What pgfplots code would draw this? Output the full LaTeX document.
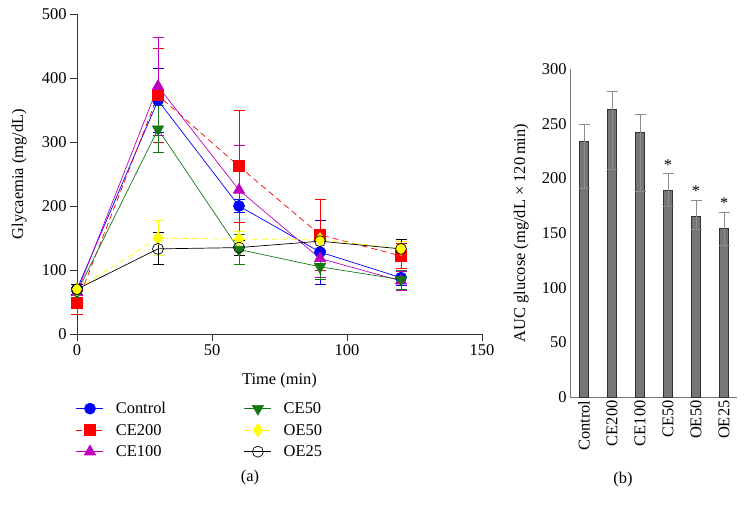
\documentclass[border=0pt]{standalone}
\usepackage{pgfplots}
\pgfplotsset{compat=1.18}
\usepackage{pgfplotstable}
\usepackage{fontspec}
\setmainfont{Liberation Serif}
\definecolor{cblue}{RGB}{0,0,255}
\definecolor{cred}{RGB}{255,0,0}
\definecolor{cmag}{RGB}{190,0,190}
\definecolor{cgreen}{RGB}{20,120,20}
\definecolor{cyel}{RGB}{255,255,0}
\definecolor{bargray}{RGB}{118,118,118}
\definecolor{bardark}{RGB}{50,50,50}
\definecolor{errgray}{RGB}{140,140,140}
\definecolor{axgray}{RGB}{120,120,120}

\pgfplotstableread{
x y e
0 70 8
30 365 50
60 200 10
90 128 50
120 88 12
}\control
\pgfplotstableread{
x y e
0 48 18
30 373 73
60 262 88
90 155 55
120 122 20
}\cetwo
\pgfplotstableread{
x y e
0 65 8
30 387 77
60 225 70
90 118 30
120 83 15
}\ceone
\pgfplotstableread{
x y e
0 65 8
30 320 37
60 132 24
90 105 20
120 85 15
}\cefifty
\pgfplotstableread{
x y e
0 70 8
30 150 27
60 148 12
90 148 15
120 133 12
}\oefifty
\pgfplotstableread{
x y e
0 70 8
30 133 25
60 135 12
90 145 15
120 133 15
}\oetwentyfive
\pgfplotstableread{
x y ep em
0 234 15 43
1 263 16 55
2 242 16 54
3 189 15 15
4 165 15 12
5 154 15 15
}\auc

\begin{document}
\begin{tikzpicture}[font=\fontsize{16.5}{19}\selectfont]
\useasboundingbox (0,0) rectangle (748bp,511bp);
\begin{axis}[
  at={(77bp,177bp)}, anchor=south west,
  scale only axis, width=405bp, height=320bp,
  xmin=0, xmax=150, ymin=0, ymax=500,
  axis lines*=left,
  axis line style={black!80, line width=0.9pt},
  xtick={0,50,100,150}, ytick={0,100,...,500},
  tick align=outside, major tick length=7bp,
  tick style={black!80, line width=0.8pt},
  /pgf/number format/assume math mode=true,
  tick label style={font=\fontsize{16.5}{19}\selectfont},
  xlabel={Time (min)}, ylabel={Glycaemia (mg/dL)},
  xlabel style={font=\fontsize{16.5}{19}\selectfont, at={(axis description cs:0.5,-0.147)}, anchor=center},
  ylabel style={font=\fontsize{16.5}{19}\selectfont, at={(axis description cs:-0.143,0.5)}, anchor=center},
  clip=false,
  legend columns=3, transpose legend,
  legend style={at={(-0.01,-0.2)}, anchor=north west, draw=none, fill=none,
    font=\fontsize{16.5}{19}\selectfont, row sep=5bp,
    /tikz/every even column/.append style={column sep=76bp},
    /tikz/every odd column/.append style={column sep=10bp}},
  legend cell align=left,
  legend image code/.code={%
    \draw[mark repeat=2, mark phase=2] plot coordinates {(0bp,0bp) (13.5bp,0bp) (27bp,0bp)};},
  every axis plot/.append style={line width=0.7pt},
  error bars/error bar style={solid, line width=0.8pt},
  error bars/error mark options={rotate=90, mark size=5.5bp, solid, line width=0.8pt},
]
\addplot[cblue, mark=*, mark size=5.5bp, mark options={fill=cblue},
  error bars/.cd, y dir=both, y explicit] table[x=x, y=y, y error=e] {\control};
\addlegendentry{Control}
\addplot[cred, dash pattern=on 6bp off 4bp, mark=square*, mark size=5.5bp, mark options={solid, fill=cred},
  error bars/.cd, y dir=both, y explicit] table[x=x, y=y, y error=e] {\cetwo};
\addlegendentry{CE200}
\addplot[cmag, mark=triangle*, mark size=6.5bp, mark options={fill=cmag},
  error bars/.cd, y dir=both, y explicit] table[x=x, y=y, y error=e] {\ceone};
\addlegendentry{CE100}
\addplot[cgreen, mark=triangle*, mark size=6.5bp, mark options={fill=cgreen, rotate=180},
  error bars/.cd, y dir=both, y explicit] table[x=x, y=y, y error=e] {\cefifty};
\addlegendentry{CE50}
\addplot[cyel, dash pattern=on 6bp off 4bp, mark=diamond*, mark size=6.5bp, mark options={solid, fill=cyel},
  error bars/.cd, y dir=both, y explicit] table[x=x, y=y, y error=e] {\oefifty};
\addlegendentry{OE50}
\addplot[black, mark=o, mark size=5.5bp, mark options={solid},
  error bars/.cd, y dir=both, y explicit] table[x=x, y=y, y error=e] {\oetwentyfive};
\addlegendentry{OE25}
\end{axis}
\node at (250bp,33bp) {(a)};

\begin{axis}[
  at={(570bp,114bp)}, anchor=south west,
  scale only axis, width=167bp, height=328bp,
  xmin=-0.5, xmax=5.46, ymin=0, ymax=300,
  axis lines*=left,
  axis line style={axgray, line width=1pt},
  ytick={0,50,...,300}, xtick=data,
  xticklabels={Control,CE200,CE100,CE50,OE50,OE25},
  x tick label style={rotate=90, anchor=east},
  major tick length=0pt,
  /pgf/number format/assume math mode=true,
  tick label style={font=\fontsize{16.5}{19}\selectfont},
  ylabel={AUC glucose (mg/dL × 120\,min)},
  ylabel style={font=\fontsize{16.5}{19}\selectfont, at={(axis description cs:-0.293,0.5)}, anchor=center},
  clip=false,
]
\addplot[ybar, bar width=9bp, fill=bargray, draw=bardark, line width=0.9pt,
  error bars/.cd, y dir=both, y explicit,
  error bar style={errgray, line width=1pt},
  error mark options={errgray, rotate=90, mark size=5.5bp, line width=1pt}]
  table[x=x, y=y, y error plus=ep, y error minus=em] {\auc};
\node at (axis cs:3,212) {*};
\node at (axis cs:4,188) {*};
\node at (axis cs:5,177) {*};
\end{axis}
\node at (623bp,31bp) {(b)};
\end{tikzpicture}
\end{document}
